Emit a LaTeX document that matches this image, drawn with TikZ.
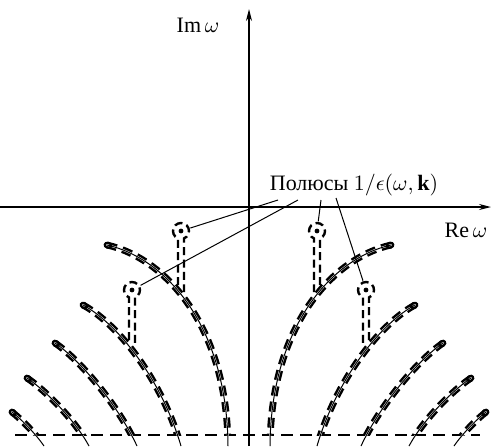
\documentclass[tikz,border=0pt]{standalone}
\usepackage{fontspec}
\setmainfont{Liberation Serif}
\usetikzlibrary{arrows.meta,calc}
\tikzset{
  cut/.style={line width=0.5pt},
  contour/.style={line width=1.25pt,double,double distance=0.9pt,dash pattern=on 5pt off 3pt},
  polering/.style={line width=1.2pt,dash pattern=on 4pt off 2.2pt},
  pole/.style={circle,minimum size=9.4pt,inner sep=0pt},
  axis/.style={line width=0.7pt,-{Stealth[length=6pt,width=3pt]}}
}
\begin{document}
\begin{tikzpicture}[x=0.5pt,y=-0.5pt,every node/.style={font=\fontsize{11}{13}\selectfont}]
\useasboundingbox (0,0) rectangle (492,446);
\draw[line width=0.7pt,dash pattern=on 6pt off 3.5pt] (15,435) -- (480,435);
\foreach \side/\d/\s in {L/0/1,R/498/-1}{
\begin{scope}[shift={(\d,0)},xscale=\s]
  \begin{scope}
    \clip (0,0) rectangle (260,435);
    \foreach \tx/\ty/\ax/\ay/\bx/\by/\ex in {107/245/165/258/227/325/228,83/305/115/322/160/375/181,
      55/343/80/360/118/405/137,27/378/45/390/75/420/89,12/412/22/420/35/433/44}
      {\draw[contour] (\tx,\ty) .. controls (\ax,\ay) and (\bx,\by) .. (\ex,446);}
  \end{scope}
  \foreach \tx/\ty/\ax/\ay/\bx/\by/\ex in {107/245/165/258/227/325/228,83/305/115/322/160/375/181,
    55/343/80/360/118/405/137,27/378/45/390/75/420/89,12/412/22/420/35/433/44}{
    \draw[line width=3.4pt,line cap=round] (\tx,\ty) -- ($(\tx,\ty)!1pt!(\ax,\ay)$);
    \draw[white,line width=0.9pt,line cap=round] (\tx,\ty) -- ($(\tx,\ty)!1pt!(\ax,\ay)$);
    \draw[cut] (\tx,\ty) .. controls (\ax,\ay) and (\bx,\by) .. (\ex,446);}
  \foreach \n/\px/\py/\ya/\yb in {1/181/231/285/292,2/132/290/340/347}{
    \node[pole] (pol\side\n) at (\px,\py) {};
    \fill (\px,\py) circle (1.2pt);
    \draw[polering] (\px-3,\ya) -- (\px-3,\py+7.4) arc[start angle=111.9,end angle=428.1,radius=8] -- (\px+3,\yb);}
\end{scope}}
\draw[axis] (0,207) -- (491,207);
\draw[axis] (249,446) -- (249,9);
\node (im) at (198,25) {Im\,$\omega$};
\node (re) at (466,230) {Re\,$\omega$};
\node (lab) at (354,185) {Полюсы $1/\epsilon(\omega,\mathbf{k})$};
\coordinate (s1) at (278,200);
\coordinate (s2) at (298,200);
\coordinate (s3) at (321,200);
\coordinate (s4) at (336,198);
\draw[cut] (s1) -- (polL1);
\draw[cut] (s2) -- (polL2);
\draw[cut] (s3) -- (polR1);
\draw[cut] (s4) -- (polR2);
\end{tikzpicture}
\end{document}
